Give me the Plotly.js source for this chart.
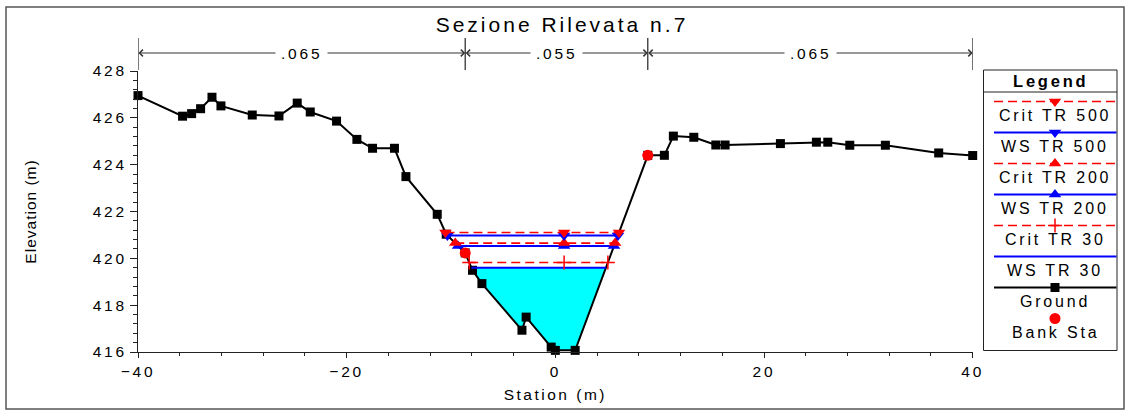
<!DOCTYPE html>
<html><head><meta charset="utf-8">
<script src="https://cdn.plot.ly/plotly-3.0.1.min.js"></script>
<style>
html,body{margin:0;padding:0;background:#fff;}
#chart{width:1128px;height:412px;}
.gtitle{letter-spacing:3px;}
.xtitle{letter-spacing:2.5px;}
.ytitle{letter-spacing:1px;}
.xtick text,.ytick text{letter-spacing:2.8px;}
.annotation-text{letter-spacing:2.8px;}
</style></head><body><div id="chart"></div>
<script>
// ---------------- data ----------------
const groundStation = [-40, -35.73, -34.86, -34.0, -32.91, -32.05, -29.05, -26.49, -24.74, -23.49,
  -20.97, -19.02, -17.52, -15.42, -14.32, -11.32, -10.46, -8.64, -7.94, -7.04,
  -3.20, -2.80, -0.40, 0, 1.90, 8.86, 10.45, 11.31, 13.27, 15.38,
  16.27, 21.57, 25.02, 26.11, 28.22, 31.63, 36.74, 40];
const groundElevation = [426.95, 426.07, 426.18, 426.39, 426.88, 426.51, 426.12, 426.08, 426.63, 426.25,
  425.86, 425.08, 424.70, 424.70, 423.49, 421.88, 421.03, 420.23, 419.49, 418.92,
  416.93, 417.49, 416.21, 416.07, 416.07, 424.40, 424.40, 425.22, 425.17, 424.84,
  424.84, 424.90, 424.96, 424.96, 424.83, 424.83, 424.50, 424.39];
const bankStation = [-8.64, 8.86];
const bankElevation = [420.23, 424.40];
const profileNames = ['Crit TR 500', 'WS TR 500', 'Crit TR 200', 'WS TR 200', 'Crit TR 30', 'WS TR 30'];
const profileElevation = [421.10, 420.98, 420.65, 420.53, 419.82, 419.60];
const profileMarkerStation = 0.84;
const nStations = [-40, -8.64, 8.86, 40];
const nValues = [0.065, 0.055, 0.065];
const xTickVals = [-40, -20, 0, 20, 40];
const yTickVals = [416, 418, 420, 422, 424, 426, 428];

// ---------------- styles ----------------
const RED = 'rgb(255,0,0)', BLUE = 'rgb(0,0,255)', CYAN = 'rgb(0,255,255)';
const FONT = 'Liberation Sans, Arial, sans-serif';
const profileStyle = [
  {color: RED, dash: '9px,5px', width: 1.6, symbol: 'triangle-down', size: 11},
  {color: BLUE, dash: 'solid', width: 2, symbol: 'triangle-down', size: 11},
  {color: RED, dash: '9px,5px', width: 1.6, symbol: 'triangle-up', size: 11},
  {color: BLUE, dash: 'solid', width: 2, symbol: 'triangle-up', size: 11},
  {color: RED, dash: '9px,5px', width: 1.6, symbol: 'cross-thin', size: 10},
  {color: BLUE, dash: 'solid', width: 2, symbol: null, size: 0}
];

// ---------------- page geometry ----------------
const W = 1128, H = 412;
const M = {l: 138, r: 8, t: 71, b: 60};
const PW = W - M.l - M.r, PH = H - M.t - M.b;
const pX = p => (p - M.l) / PW;
const pY = p => (H - M.b - p) / PH;

// ---------------- helpers ----------------
function wetExtent(el) {
  const gx = groundStation, gy = groundElevation, n = gx.length;
  let iMin = 0;
  for (let k = 1; k < n; k++) if (gy[k] < gy[iMin]) iMin = k;
  let i = iMin;
  while (i > 0 && gy[i - 1] < el) i--;
  const xl = gx[i - 1] + (el - gy[i - 1]) / (gy[i] - gy[i - 1]) * (gx[i] - gx[i - 1]);
  let j = iMin;
  while (j < n - 1 && gy[j + 1] < el) j++;
  const xr = gx[j] + (el - gy[j]) / (gy[j + 1] - gy[j]) * (gx[j + 1] - gx[j]);
  return {xl, xr, i, j};
}

const traces = [];
// water area below the lowest water surface (WS TR 30)
{
  const el = profileElevation[5];
  const e = wetExtent(el);
  const xs = [e.xl], ys = [el];
  for (let k = e.i; k <= e.j; k++) { xs.push(groundStation[k]); ys.push(groundElevation[k]); }
  xs.push(e.xr, e.xl); ys.push(el, el);
  traces.push({x: xs, y: ys, type: 'scatter', mode: 'lines', fill: 'toself', fillcolor: CYAN,
    line: {width: 0, color: CYAN}, hoverinfo: 'skip', showlegend: false});
}
// ground
traces.push({x: groundStation, y: groundElevation, type: 'scatter', mode: 'lines+markers', name: 'Ground',
  line: {color: 'black', width: 2}, marker: {symbol: 'square', size: 9, color: 'black'},
  cliponaxis: false, showlegend: false});
// profiles, drawn from lowest to highest, WS before Crit
const drawOrder = [5, 4, 3, 2, 1, 0];
drawOrder.forEach(k => {
  const el = profileElevation[k], st = profileStyle[k];
  const e = wetExtent(el);
  const hasM = !!st.symbol;
  const xs = hasM ? [e.xl, profileMarkerStation, e.xr] : [e.xl, e.xr];
  const ys = xs.map(() => el);
  const tr = {x: xs, y: ys, type: 'scatter', mode: hasM ? 'lines+markers' : 'lines', name: profileNames[k],
    line: {color: st.color, width: st.width, dash: st.dash}, cliponaxis: false, showlegend: false};
  if (hasM) tr.marker = {symbol: st.symbol, size: st.size, color: st.color,
    line: {color: st.color, width: st.symbol === 'cross-thin' ? 1.5 : 0}};
  traces.push(tr);
});
// bank stations
traces.push({x: bankStation, y: bankElevation, type: 'scatter', mode: 'markers', name: 'Bank Sta',
  marker: {symbol: 'circle', size: 11, color: RED}, cliponaxis: false, showlegend: false});

// ---------------- custom legend (x2/y2 in pixel units) ----------------
const LG = {x0: 983.5, x1: 1117, y0: 70, y1: 350.5, sep: 92, lineX0: 994, lineX1: 1116.5, mid: 1055,
  row0: 101.5, rowStep: 31, textOff: 13.5};
const legendItems = profileNames.map((nm, k) => ({name: nm, st: profileStyle[k]}));
legendItems.push({name: 'Ground', st: {color: 'black', dash: 'solid', width: 2, symbol: 'square', size: 9}});
legendItems.push({name: 'Bank Sta', st: {color: RED, dash: null, width: 0, symbol: 'circle', size: 11}, markerOnly: true});

const annotations = [];
legendItems.forEach((it, k) => {
  const ry = LG.row0 + k * LG.rowStep;
  const st = it.st;
  if (it.markerOnly) {
    traces.push({x: [LG.mid], y: [ry], xaxis: 'x2', yaxis: 'y2', type: 'scatter', mode: 'markers',
      marker: {symbol: st.symbol, size: st.size, color: st.color}, showlegend: false, hoverinfo: 'skip'});
  } else {
    traces.push({x: [LG.lineX0, LG.lineX1], y: [ry, ry], xaxis: 'x2', yaxis: 'y2', type: 'scatter',
      mode: 'lines', line: {color: st.color, width: st.width, dash: st.dash},
      showlegend: false, hoverinfo: 'skip'});
    if (st.symbol) traces.push({x: [LG.mid], y: [ry], xaxis: 'x2', yaxis: 'y2', type: 'scatter', mode: 'markers',
      marker: {symbol: st.symbol, size: st.size, color: st.color,
        line: {color: st.color, width: st.symbol === 'cross-thin' ? 1.5 : 0}},
      showlegend: false, hoverinfo: 'skip'});
  }
  annotations.push({xref: 'x2', yref: 'y2', x: LG.mid, y: ry + LG.textOff, text: it.name, showarrow: false,
    font: {family: FONT, size: 16, color: 'black'}, xanchor: 'center', yanchor: 'middle'});
});
annotations.push({xref: 'x2', yref: 'y2', x: (LG.x0 + LG.x1) / 2, y: 80.5, text: '<b>Legend</b>', showarrow: false,
  font: {family: FONT, size: 16.5, color: 'black'}, xanchor: 'center', yanchor: 'middle'});

// ---------------- Manning n annotation above the plot ----------------
const nArrowY = pY(53);
const shapes = [];
nStations.forEach(s => {
  shapes.push({type: 'line', xref: 'x', yref: 'paper', x0: s, x1: s, y0: pY(70), y1: pY(38),
    line: {color: '#222', width: 1.2}});
});
for (let k = 0; k < nValues.length; k++) {
  annotations.push({xref: 'x', yref: 'paper', x: nStations[k + 1], y: nArrowY, axref: 'x', ayref: 'pixel',
    ax: nStations[k], ay: 0, text: '', showarrow: true, arrowside: 'end+start', arrowhead: 4, startarrowhead: 4,
    arrowsize: 1.3, startarrowsize: 1.3, arrowwidth: 1, arrowcolor: '#333', borderpad: 0, standoff: 0, startstandoff: 0});
}
for (let k = 0; k < nValues.length; k++) {
  annotations.push({xref: 'x', yref: 'paper', x: (nStations[k] + nStations[k + 1]) / 2, y: nArrowY,
    text: nValues[k].toFixed(3).replace(/^0/, ''), showarrow: false, bgcolor: 'white', borderpad: 5,
    font: {family: FONT, size: 15.5, color: 'black'}, xanchor: 'center', yanchor: 'middle'});
}

// legend box + outer frame
shapes.push({type: 'rect', xref: 'paper', yref: 'paper', x0: pX(LG.x0), x1: pX(LG.x1), y0: pY(LG.y1), y1: pY(LG.y0),
  line: {color: '#222', width: 1}, fillcolor: 'rgba(0,0,0,0)'});
shapes.push({type: 'line', xref: 'paper', yref: 'paper', x0: pX(LG.x0), x1: pX(LG.x1), y0: pY(LG.sep), y1: pY(LG.sep),
  line: {color: '#222', width: 1}});
shapes.push({type: 'rect', xref: 'paper', yref: 'paper', x0: pX(6), x1: pX(1124), y0: pY(409), y1: pY(7),
  line: {color: '#555', width: 1.5}, fillcolor: 'rgba(0,0,0,0)'});

const axisCommon = {showgrid: false, zeroline: false, showline: true, linecolor: '#222', linewidth: 1,
  ticks: 'outside', tickcolor: '#222', tickfont: {family: FONT, size: 15.5, color: 'black'}};

const layout = {
  width: W, height: H, margin: M, paper_bgcolor: 'white', plot_bgcolor: 'white', showlegend: false,
  title: {text: 'Sezione Rilevata n.7', font: {family: FONT, size: 21, color: 'black'},
    xref: 'paper', x: pX(562), xanchor: 'center', yref: 'container', y: 1 - 25 / H, yanchor: 'middle'},
  xaxis: Object.assign({}, axisCommon, {domain: [0, pX(972.7)], range: [-40, 40], tickmode: 'array',
    tickvals: xTickVals, ticklen: 5, minor: {ticks: 'outside', dtick: 4, ticklen: 3, tickcolor: '#222'},
    title: {text: 'Station (m)', font: {family: FONT, size: 15.5, color: 'black'}, standoff: 10}}),
  yaxis: Object.assign({}, axisCommon, {range: [416, 428], tickmode: 'array', tickvals: yTickVals, ticklen: 7,
    minor: {ticks: 'outside', dtick: 0.4, ticklen: 4, tickcolor: '#222'},
    title: {text: 'Elevation (m)', font: {family: FONT, size: 15.5, color: 'black'}, standoff: 52}}),
  xaxis2: {domain: [pX(LG.x0), pX(LG.x1)], range: [LG.x0, LG.x1], visible: false, anchor: 'y2', fixedrange: true},
  yaxis2: {domain: [0, 1], range: [H - M.b, M.t], visible: false, anchor: 'x2', fixedrange: true},
  shapes: shapes, annotations: annotations
};

Plotly.newPlot('chart', traces, layout, {displayModeBar: false, staticPlot: true});
</script></body></html>
